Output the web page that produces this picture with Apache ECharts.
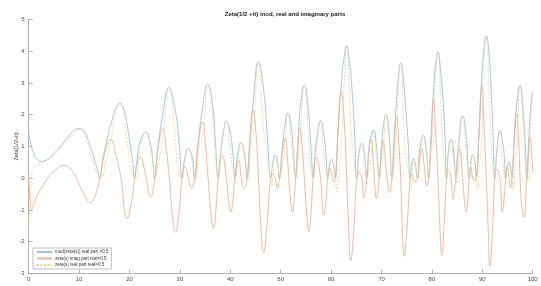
<!DOCTYPE html>
<html>
<head>
<meta charset="utf-8">
<script src="https://cdn.jsdelivr.net/npm/echarts@6/dist/echarts.min.js"></script>
<style>
  html, body { margin: 0; padding: 0; background: #fff; }
  #grafico { width: 541px; height: 286px; }
</style>
</head>
<body>
<div id="grafico"></div>
<script>
// values, [t, value]
const modPts = [
  [0,1.46],[0.3,1.15],[0.6,0.95],[1.0,0.78],[1.5,0.63],[2.5,0.53],[3.5,0.57],[4.5,0.7],[6,0.95],[8,1.33],[9,1.5],[10,1.56],[11,1.48],[12,1.1],[13,0.6],[13.6,0.3],[14.13,0],
  [14.6,0.5],[15.5,1.2],[16.5,1.8],[17.3,2.2],[18.1,2.35],[19,2.1],[19.5,1.7],[20,1.2],[20.6,0.55],[21.02,0],
  [21.5,0.6],[22.2,1.2],[23.2,1.45],[24.1,1.1],[24.6,0.6],[25.01,0],
  [25.6,0.9],[26.6,2.0],[27.8,2.85],[29,2.2],[29.8,1.2],[30.42,0],
  [30.9,0.55],[31.7,0.93],[32.4,0.7],[32.94,0],
  [33.5,0.9],[34.5,2.2],[35.5,2.95],[36.5,2.3],[37.1,1.0],[37.59,0],
  [38.1,0.8],[38.7,1.5],[39.2,1.8],[39.9,1.5],[40.5,0.8],[40.92,0],
  [41.4,0.7],[42.1,1.12],[42.8,0.8],[43.33,0],
  [43.8,0.9],[44.6,2.5],[45.6,3.66],[46.6,2.8],[47.4,1.2],[48.01,0],
  [48.5,0.55],[48.9,0.72],[49.35,0.55],[49.77,0],
  [50.3,0.9],[50.9,1.75],[51.4,2.05],[52.0,1.7],[52.5,0.9],[52.97,0],
  [53.4,1.1],[54.0,2.4],[54.7,2.93],[55.4,2.3],[56.0,1.0],[56.45,0],
  [56.9,0.9],[57.4,1.5],[57.9,1.82],[58.6,1.3],[59.0,0.7],[59.35,0],
  [59.7,0.45],[60.1,0.59],[60.5,0.4],[60.83,0],
  [61.4,1.6],[62.0,2.9],[62.5,3.7],[63.1,4.17],[63.6,3.7],[64.0,3.1],[64.6,1.6],[65.11,0],
  [65.6,0.85],[66.1,1.1],[66.6,0.75],[67.08,0],
  [67.5,0.9],[67.9,1.3],[68.4,1.53],[69.0,1.0],[69.55,0],
  [70.1,1.2],[70.9,2.0],[71.5,1.4],[72.07,0],
  [72.5,1.3],[73.0,2.5],[73.3,3.1],[73.8,3.63],[74.4,3.0],[74.9,2.0],[75.3,1.1],[75.7,0],
  [76.0,0.5],[76.3,0.61],[76.7,0.45],[77.14,0],
  [77.6,0.9],[78.3,1.35],[78.9,0.85],[79.34,0],
  [79.8,1.3],[80.3,2.7],[80.7,3.5],[81.2,3.98],[81.7,3.4],[82.2,2.5],[82.6,1.3],[82.91,0],
  [83.3,0.9],[83.8,1.22],[84.3,0.85],[84.74,0],
  [85.3,1.1],[86.1,1.96],[86.8,1.35],[87.43,0],
  [87.8,0.6],[88.1,0.74],[88.5,0.55],[88.81,0],
  [89.3,1.3],[89.9,3.2],[90.3,4.0],[90.8,4.48],[91.3,4.0],[91.7,3.0],[92.1,1.5],[92.49,0],
  [92.9,0.9],[93.5,1.5],[93.9,1.25],[94.3,0.8],[94.65,0],
  [94.95,0.4],[95.3,0.5],[95.6,0.35],[95.87,0],
  [96.3,1.2],[96.8,2.3],[97.5,2.93],[98.1,2.1],[98.5,1.2],[98.83,0],
  [99.3,1.5],[99.7,2.4],[100,2.7]
];

const imagPts = [
  [0,0],[0.3,-0.7],[0.6,-0.97],[1.2,-0.72],[2.8,-0.23],[4.8,0.19],[7.1,0.4],[8.8,0.19],[10.8,-0.44],[12.3,-0.77],[13.3,-0.5],[14.13,0],
  [15.2,0.85],[16.3,1.22],[17.2,0.8],[18.3,0],[19.5,-1.27],[20.4,-0.75],[21.02,0],
  [21.6,0.5],[22.2,0.66],[22.8,0.4],[23.3,0],[24.2,-0.6],[24.7,-0.35],[25.01,0],
  [25.8,1.1],[26.6,1.56],[27.3,0.9],[27.9,0],[28.5,-1.1],[29.15,-1.7],[29.8,-1.1],[30.42,0],
  [31.0,0.35],[31.7,0],[32.3,-0.32],[32.94,0],
  [33.8,1.3],[34.5,1.77],[35.1,1.0],[35.6,0],[36.1,-1.0],[36.65,-1.58],[37.2,-0.9],[37.59,0],
  [38.4,0.72],[39.2,0],[39.6,-0.6],[40.1,-1.07],[40.5,-0.7],[40.92,0],
  [41.7,0.56],[42.2,0],[42.8,-0.32],[43.33,0],
  [44.0,1.5],[44.5,2.14],[45.0,1.6],[45.6,0],[46.1,-1.6],[46.6,-2.34],[47.2,-1.6],[48.01,0],
  [48.4,0.15],[48.9,0],[49.35,-0.32],[49.77,0],
  [50.4,0.9],[50.9,1.26],[51.4,0.5],[51.8,-0.4],[52.35,-1.07],[52.7,-0.6],[52.97,0],
  [53.4,1.0],[53.8,1.56],[54.3,0.9],[54.7,0],[55.1,-1.0],[55.6,-1.68],[56.0,-1.1],[56.45,0],
  [57.0,0.66],[57.9,0],[58.5,-1.16],[59.0,-0.7],[59.35,0],
  [59.8,0.3],[60.2,0.05],[60.5,-0.1],[60.83,0],
  [61.4,1.5],[62.0,2.74],[62.6,1.8],[63.1,0],[63.5,-1.6],[63.9,-2.6],[64.5,-1.6],[65.11,0],
  [65.6,0.19],[66.1,0],[66.45,-0.63],[66.8,-0.4],[67.08,0],
  [67.5,0.9],[67.9,1.22],[68.4,0.5],[68.7,-0.3],[69.0,-0.63],[69.3,-0.4],[69.55,0],
  [70.0,0.8],[70.3,1.19],[70.9,0.3],[71.1,0],[71.6,-0.45],[72.07,0],
  [72.5,1.0],[73.0,1.93],[73.4,1.2],[73.8,0],[74.1,-1.4],[74.5,-2.46],[75.0,-1.7],[75.7,0],
  [76.0,0.15],[76.3,0],[76.7,-0.12],[77.14,0],
  [77.6,0.6],[78.0,0.93],[78.4,0.5],[78.7,0],[79.0,-0.25],[79.34,0],
  [79.9,1.2],[80.3,2.5],[80.7,1.6],[81.2,0],[81.6,-1.6],[81.95,-2.44],[82.4,-1.5],[82.91,0],
  [83.15,0.3],[83.8,0],[84.15,-0.67],[84.5,-0.4],[84.74,0],
  [85.1,0.7],[85.45,0.93],[86.1,0],[86.5,-0.8],[86.8,-1.07],[87.15,-0.6],[87.43,0],
  [87.75,0.35],[88.1,0],[88.5,-0.08],[88.81,0],
  [89.3,1.2],[89.9,2.9],[90.3,1.8],[90.8,0],[91.2,-1.7],[91.5,-2.76],[92.0,-1.7],[92.49,0],
  [92.85,0.27],[93.5,0],[93.95,-1.07],[94.35,-0.6],[94.65,0],
  [94.95,0.35],[95.3,0],[95.6,-0.3],[95.87,0],
  [96.4,1.3],[96.8,2.03],[97.2,1.2],[97.5,0],[97.9,-1.0],[98.3,-1.23],[98.6,-0.7],[98.83,0],
  [99.2,0.9],[99.5,1.3],[99.8,0.8],[100,0.2]
];

const realPts = [
  [0,-1.46],[0.2,-0.9],[0.4,-0.3],[0.6,0.1],[1.0,0.3],[1.5,0.4],[2.5,0.47],[4,0.6],[5.5,0.8],[7.1,1.08],[8.8,1.38],[10,1.52],[11,1.42],[12.3,0.7],[13.3,0.25],[14.13,0],[14.45,-0.05],
  [15.2,0.5],[16.3,1.2],[17.3,2.05],[18.3,2.33],[19.5,1.15],[20.3,0.2],[21.02,0],[21.3,-0.08],
  [22.2,1.0],[23.3,1.45],[24.2,0.9],[24.7,0.35],[25.01,0],
  [25.8,0.5],[26.6,1.3],[27.9,2.83],[29.15,1.05],[29.8,0.15],[30.42,0],
  [31.0,0.58],[31.7,0.93],[32.3,0.62],[32.94,0],[33.2,-0.05],
  [33.8,1.0],[34.5,1.3],[35.6,2.93],[36.65,1.65],[37.2,0.35],[37.59,0],
  [38.4,1.14],[39.2,1.8],[40.1,0.7],[40.5,0.3],[40.92,0],
  [41.7,0.75],[42.1,1.1],[42.8,0.72],[43.33,0],[43.6,-0.05],
  [44.0,1.0],[44.5,1.3],[45.6,3.64],[46.6,1.55],[47.2,0.9],[47.7,0.2],[48.01,0],[48.2,-0.25],[48.5,0.3],
  [48.9,0.72],[49.35,0.45],[49.77,0],
  [50.4,0.5],[50.9,1.2],[51.4,2.03],[52.3,0.8],[52.7,0.2],[52.97,0],
  [53.4,0.45],[53.8,1.25],[54.7,2.92],[55.6,1.1],[56.0,0.2],[56.45,0],
  [57.0,0.75],[57.9,1.8],[58.5,0.75],[59.0,0.2],[59.35,0],
  [59.8,0.4],[60.1,0.58],[60.5,0.38],[60.83,0],[61.1,-0.42],[61.45,0],
  [62.0,0.95],[62.6,3.0],[63.1,4.15],[63.9,1.7],[64.5,0.6],[65.11,0],
  [65.6,0.83],[66.1,1.1],[66.6,0.6],[67.08,0],
  [67.5,0.2],[67.9,0.6],[68.4,1.52],[69.0,0.75],[69.55,0],
  [70.0,0.5],[70.3,0.7],[70.9,1.98],[71.6,1.1],[72.07,0],
  [72.5,0.5],[73.0,1.55],[73.8,3.6],[74.5,1.4],[75.0,0.5],[75.7,0],[75.95,-0.35],[76.3,0.6],[76.7,0.45],[77.14,0],
  [77.6,0.6],[78.0,1.0],[78.3,1.35],[78.8,0.85],[79.34,0],
  [79.8,0.8],[80.3,1.1],[80.7,3.1],[81.2,3.96],[81.95,1.7],[82.4,0.5],[82.91,0],
  [83.3,0.9],[83.8,1.22],[84.2,0.7],[84.74,0],[84.95,-0.15],
  [85.45,0.8],[86.1,1.95],[86.8,0.8],[87.43,0],
  [87.75,0.5],[88.1,0.74],[88.5,0.5],[88.81,0],[89.05,-0.4],[89.4,0.3],
  [89.9,1.35],[90.3,3.6],[90.8,4.46],[91.5,2.0],[92.0,0.6],[92.49,0],
  [92.85,0.8],[93.5,1.5],[93.95,0.6],[94.65,0],
  [94.95,0.25],[95.3,0.5],[95.6,0.25],[95.87,0],[96.15,-0.38],[96.5,0.3],
  [96.8,1.05],[97.5,2.9],[98.3,1.1],[98.83,0],[99.1,-0.1],[99.5,1.4],[100,2.65]
];

const nomesSeries = [
  "mod(zeta(s)) real part =0.5",
  "zeta(s) imag part real=0.5",
  "zeta(s) real part real=0.5"
];

var chartDom = document.getElementById("grafico");
var myChart = echarts.init(chartDom, null, { renderer: "canvas" });

const corEixo = "#a0a0a0";
const corTexto = "#4a4a4a";
const fonte = "Liberation Sans";

var option = {
  animation: false,
  backgroundColor: "#fff",
  title: {
    text: "Zeta(1/2 +it) mod, real and imaginary parts",
    left: 280,
    top: 6,
    textAlign: "center",
    textStyle: { fontSize: 6, fontWeight: "bold", color: "#222", fontFamily: fonte }
  },
  grid: {
    left: 28.7,
    right: 8.3,
    top: 19.3,
    bottom: 12.5,
    containLabel: false,
    outerBoundsMode: "none"
  },
  legend: {
    orient: "vertical",
    left: 33,
    top: 248,
    itemWidth: 15,
    itemHeight: 5,
    itemGap: 1.5,
    padding: [1.5, 3, 1.5, 3],
    borderColor: "#a8a8a8",
    borderWidth: 0.7,
    backgroundColor: "#fff",
    itemStyle: { opacity: 0 },
    textStyle: { fontSize: 4.5, color: "#333", fontFamily: fonte, padding: [0, 0, 0, -2] },
    data: nomesSeries
  },
  xAxis: {
    type: "value",
    min: 0,
    max: 100,
    interval: 10,
    axisLine: { onZero: false, lineStyle: { color: corEixo, width: 0.8 } },
    axisTick: { inside: true, length: 4, lineStyle: { color: corEixo, width: 0.8 } },
    axisLabel: { fontSize: 6, color: corTexto, margin: 3, fontFamily: fonte },
    splitLine: { show: false }
  },
  yAxis: {
    type: "value",
    min: -3,
    max: 5,
    interval: 1,
    name: "Zeta(1/2+it)",
    nameLocation: "middle",
    nameGap: 9,
    nameMoveOverlap: false,
    nameRotate: 90,
    nameTextStyle: { fontSize: 5.5, color: "#333", fontFamily: fonte },
    axisLine: { show: true, onZero: false, lineStyle: { color: corEixo, width: 0.8 } },
    axisTick: { show: true, inside: true, length: 4, lineStyle: { color: corEixo, width: 0.8 } },
    axisLabel: { fontSize: 6, color: corTexto, margin: 4, fontFamily: fonte },
    splitLine: { show: false }
  },
  series: [
    {
      name: nomesSeries[0],
      type: "line",
      data: modPts,
      showSymbol: false,
      symbol: "none",
      smooth: 0.5,
      lineStyle: { color: "#92c4e4", width: 0.9 },
      itemStyle: { color: "#92c4e4" }
    },
    {
      name: nomesSeries[1],
      type: "line",
      data: imagPts,
      showSymbol: false,
      symbol: "none",
      smooth: 0.5,
      lineStyle: { color: "#efb194", width: 0.9 },
      itemStyle: { color: "#efb194" }
    },
    {
      name: nomesSeries[2],
      type: "line",
      data: realPts,
      showSymbol: false,
      symbol: "none",
      smooth: 0.5,
      lineStyle: { color: "#f4d27e", width: 0.8, type: [2, 1.5] },
      itemStyle: { color: "#f4d27e" }
    }
  ]
};

option && myChart.setOption(option);
</script>
</body>
</html>
